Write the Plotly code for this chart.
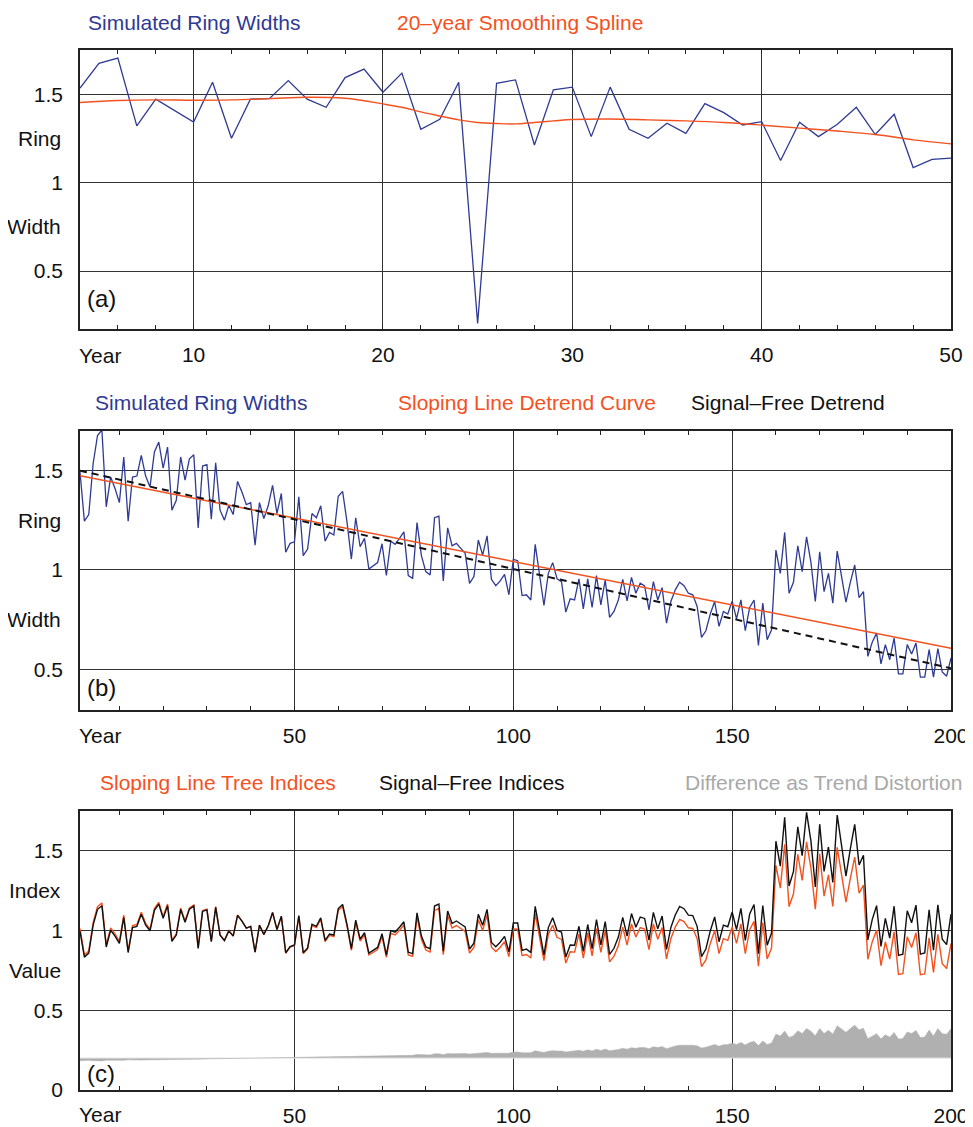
import plotly.graph_objects as go

# ---------------- data ----------------
# Panel (a): years 4..50 with a pointer (narrow) ring at year 25
years_a = list(range(4, 51))
rw_a = [1.534, 1.675, 1.704, 1.321, 1.472, 1.406, 1.342, 1.568, 1.251, 1.472,
        1.475, 1.577, 1.472, 1.426, 1.594, 1.642, 1.511, 1.619, 1.302, 1.358,
        1.568, 0.204, 1.562, 1.581, 1.213, 1.525, 1.540, 1.260, 1.540, 1.302,
        1.251, 1.336, 1.279, 1.447, 1.396, 1.326, 1.345, 1.125, 1.342, 1.260,
        1.330, 1.426, 1.272, 1.387, 1.085, 1.132, 1.138]
spline_years = [4, 6, 8, 10, 12, 14, 16, 18, 20, 21, 22, 23, 24, 25, 26, 27, 28,
                29, 30, 32, 34, 36, 38, 40, 42, 44, 46, 48, 50]
spline_vals = [1.453, 1.464, 1.468, 1.466, 1.468, 1.475, 1.483, 1.477, 1.445, 1.426,
               1.400, 1.377, 1.355, 1.340, 1.334, 1.332, 1.340, 1.349, 1.357, 1.360,
               1.355, 1.349, 1.340, 1.325, 1.308, 1.292, 1.272, 1.242, 1.219]

# Panel (b): simulated ring widths, years 1..200
years_b = list(range(1, 201))
rw_b = [1.493, 1.246, 1.279, 1.535, 1.677, 1.705, 1.318, 1.468, 1.410, 1.339,
        1.569, 1.246, 1.468, 1.473, 1.577, 1.473, 1.418, 1.594, 1.644, 1.513,
        1.619, 1.301, 1.351, 1.569, 1.452, 1.560, 1.580, 1.212, 1.523, 1.530,
        1.256, 1.540, 1.301, 1.251, 1.326, 1.279, 1.446, 1.393, 1.329, 1.339,
        1.125, 1.339, 1.259, 1.323, 1.426, 1.284, 1.385, 1.089, 1.134, 1.142,
        1.368, 1.072, 1.105, 1.284, 1.263, 1.323, 1.145, 1.189, 1.176, 1.371,
        1.396, 1.242, 1.055, 1.263, 1.117, 1.159, 1.005, 1.022, 1.037, 1.132,
        0.972, 1.145, 1.129, 1.159, 1.192, 0.972, 0.958, 1.239, 1.072, 0.992,
        0.975, 1.263, 1.271, 0.945, 1.212, 1.122, 1.134, 1.109, 1.084, 0.933,
        0.967, 1.151, 1.075, 1.172, 0.953, 0.921, 0.945, 0.978, 0.875, 1.053,
        1.047, 0.871, 0.875, 0.849, 1.129, 0.975, 0.821, 0.983, 1.037, 0.955,
        0.941, 0.788, 0.855, 0.849, 0.955, 0.804, 0.955, 0.811, 0.972, 0.824,
        0.950, 0.761, 0.791, 0.849, 0.953, 0.844, 0.963, 0.883, 0.933, 0.920,
        0.799, 0.941, 0.849, 0.911, 0.732, 0.841, 0.900, 0.938, 0.921, 0.883,
        0.875, 0.816, 0.661, 0.694, 0.778, 0.841, 0.716, 0.791, 0.778, 0.843,
        0.754, 0.849, 0.694, 0.811, 0.849, 0.620, 0.833, 0.649, 0.699, 1.100,
        0.983, 1.189, 0.883, 0.938, 1.122, 0.992, 1.167, 1.038, 0.841, 1.092,
        0.891, 0.983, 0.833, 1.095, 0.967, 0.838, 0.938, 1.025, 0.861, 0.891,
        0.565, 0.636, 0.682, 0.527, 0.624, 0.548, 0.657, 0.477, 0.477, 0.624,
        0.577, 0.632, 0.460, 0.460, 0.599, 0.460, 0.604, 0.487, 0.465, 0.557]

# straight detrending curves (end points)
curve_years = [1, 200]
sloping_line = [1.475, 0.606]
signal_free_line = [1.500, 0.505]

diff_base = 0.2  # baseline of the grey difference band in panel (c)

# ---------------- derived indices (ring width / detrend curve) ----------------
def curve_at(ends, t):
    return ends[0] + (ends[1] - ends[0]) * (t - curve_years[0]) / (curve_years[1] - curve_years[0])

sl_index = [w / curve_at(sloping_line, t) for t, w in zip(years_b, rw_b)]
sf_index = [w / curve_at(signal_free_line, t) for t, w in zip(years_b, rw_b)]
diff_top = [diff_base + (f - s) for f, s in zip(sf_index, sl_index)]

# ---------------- styling ----------------
BLUE = "#2E3A94"
ORANGE = "#F4511E"
BLACK = "#111111"
GREY = "#B0B0B0"
GREYTXT = "#A9A9A9"
FONT = "Liberation Sans, Arial, Helvetica, sans-serif"
FS = 21

fig = go.Figure()

# Panel (a)
fig.add_trace(go.Scatter(x=years_a, y=rw_a, mode="lines", line=dict(color=BLUE, width=1.3),
                         xaxis="x", yaxis="y"))
fig.add_trace(go.Scatter(x=spline_years, y=spline_vals, mode="lines",
                         line=dict(color=ORANGE, width=1.4, shape="spline"),
                         xaxis="x", yaxis="y"))

# Panel (b)
fig.add_trace(go.Scatter(x=years_b, y=rw_b, mode="lines", line=dict(color=BLUE, width=1.3),
                         xaxis="x2", yaxis="y2"))
fig.add_trace(go.Scatter(x=curve_years, y=sloping_line, mode="lines",
                         line=dict(color=ORANGE, width=1.5), xaxis="x2", yaxis="y2"))
fig.add_trace(go.Scatter(x=curve_years, y=signal_free_line, mode="lines",
                         line=dict(color=BLACK, width=2, dash="7px,5px"), xaxis="x2", yaxis="y2"))

# Panel (c)
fig.add_trace(go.Scatter(x=years_b, y=[diff_base] * len(years_b), mode="lines",
                         line=dict(color="#E0E0E0", width=1), xaxis="x3", yaxis="y3"))
fig.add_trace(go.Scatter(x=years_b, y=diff_top, mode="lines", fill="tonexty",
                         fillcolor=GREY, line=dict(color=GREY, width=0.5),
                         xaxis="x3", yaxis="y3"))
fig.add_trace(go.Scatter(x=years_b, y=sl_index, mode="lines", line=dict(color=ORANGE, width=1.4),
                         xaxis="x3", yaxis="y3"))
fig.add_trace(go.Scatter(x=years_b, y=sf_index, mode="lines", line=dict(color=BLACK, width=1.4),
                         xaxis="x3", yaxis="y3"))

def xaxis(rng, tickvals, minor_dtick, anchor):
    return dict(range=rng, tickvals=tickvals, ticks="inside", ticklen=4, tickcolor="#222",
                minor=dict(dtick=minor_dtick, ticks="inside", ticklen=4, tickcolor="#222",
                           showgrid=False),
                showgrid=True, gridcolor="#333", gridwidth=1, zeroline=False,
                showline=True, linecolor="#222", linewidth=1.6, mirror="allticks",
                anchor=anchor, ticklabelstandoff=6, automargin=False,
                tickfont=dict(family=FONT, size=FS, color=BLACK))

def yaxis(rng, tickvals, ticktext, domain, anchor):
    return dict(range=rng, tickvals=tickvals, ticktext=ticktext, ticks="",
                showgrid=True, gridcolor="#333", gridwidth=1, zeroline=False,
                showline=True, linecolor="#222", linewidth=1.6, mirror=True,
                domain=domain, anchor=anchor, ticklabelstandoff=11, automargin=False,
                tickfont=dict(family=FONT, size=FS, color=BLACK))

# the page body adds an 8px offset, so the figure is 8px smaller and margins shifted
fig.update_layout(
    width=965, height=1119,
    margin=dict(l=72, r=22, t=42, b=37, autoexpand=False),
    paper_bgcolor="white", plot_bgcolor="white",
    showlegend=False,
    font=dict(family=FONT, size=FS, color=BLACK),
    xaxis=xaxis([4, 50], [10, 20, 30, 40, 50], 2, "y"),
    yaxis=yaxis([0.172, 1.75], [0.5, 1, 1.5], ["0.5", "1", "1.5"], [0.7317, 1.0], "x"),
    xaxis2=xaxis([1, 200], [50, 100, 150, 200], 10, "y2"),
    yaxis2=yaxis([0.295, 1.70], [0.5, 1, 1.5], ["0.5", "1", "1.5"], [0.3654, 0.6337], "x2"),
    xaxis3=xaxis([1, 200], [50, 100, 150, 200], 10, "y3"),
    yaxis3=yaxis([0, 1.75], [0, 0.5, 1, 1.5], ["0", "0.5", "1", "1.5"], [0.0, 0.2683], "x3"),
)

ann = []
def txt(x, y, s, color=BLACK, xanchor="left", xref="paper", yref="paper", size=FS):
    ann.append(dict(x=x, y=y, text=s, xref=xref, yref=yref, xanchor=xanchor, yanchor="middle",
                    showarrow=False, font=dict(family=FONT, size=size, color=color)))

# series titles
txt(0.0069, 1.0269, "Simulated Ring Widths", BLUE)
txt(0.3617, 1.0269, "20\u2013year Smoothing Spline", ORANGE)
txt(0.0149, 0.6606, "Simulated Ring Widths", BLUE)
txt(0.3628, 0.6606, "Sloping Line Detrend Curve", ORANGE)
txt(0.6992, 0.6606, "Signal\u2013Free Detrend", BLACK)
txt(0.0207, 0.2952, "Sloping Line Tree Indices", ORANGE)
txt(0.3410, 0.2952, "Signal\u2013Free Indices", BLACK)
txt(0.6923, 0.2952, "Difference as Trend Distortion", GREYTXT)

# "Year" labels
for yp in [0.7067, 0.3413, -0.024]:
    txt(-0.003, yp, "Year")

# y-axis word labels
for yref, top, bottom in [("y", "Ring", "Width"), ("y2", "Ring", "Width"), ("y3", "Index", "Value")]:
    txt(-0.0195, 1.25, top, xanchor="right", yref=yref)
    txt(-0.0195, 0.75, bottom, xanchor="right", yref=yref)

# panel letters
txt(0.006, 0.347, "(a)", yref="y", size=24)
txt(0.006, 0.406, "(b)", yref="y2", size=24)
txt(0.006, 0.106, "(c)", yref="y3", size=24)

fig.update_layout(annotations=ann)

fig.write_html("out.html")
